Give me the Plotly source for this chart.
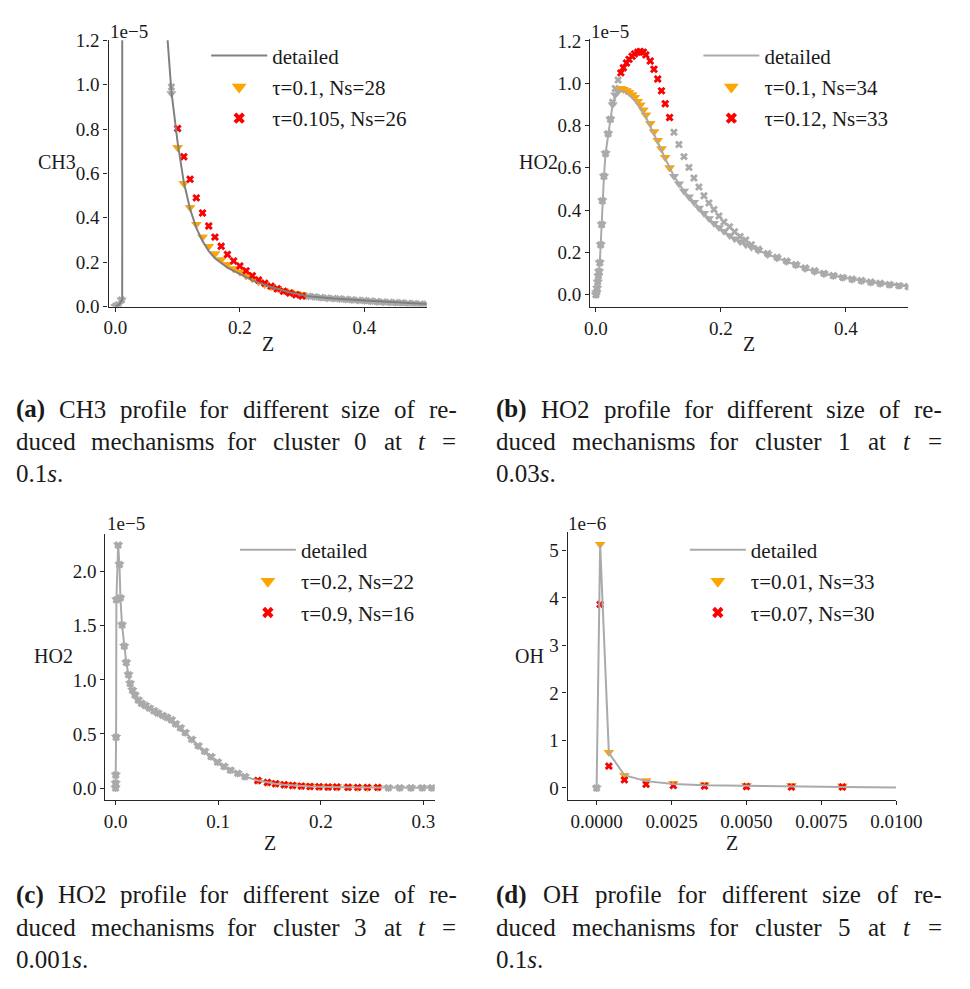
import plotly.graph_objects as go

# ---------------- DATA ----------------
# (a) CH3, cluster 0, t = 0.1 s   (values in units of 1e-5)
Z_a_detailed = [0.0, 0.005, 0.011, 0.0125, 0.03, 0.05, 0.07, 0.08, 0.09, 0.10, 0.11, 0.12, 0.13,
                0.14, 0.15, 0.16, 0.18, 0.20, 0.22, 0.25, 0.28, 0.31, 0.35, 0.40, 0.45, 0.50]
CH3_a_detailed = [0.0, 0.006, 0.03, 30.0, 8.0, 3.5, 1.8, 1.35, 0.97, 0.74, 0.56, 0.44, 0.355,
                  0.295, 0.25, 0.218, 0.175, 0.145, 0.118, 0.088, 0.064, 0.046, 0.036, 0.027, 0.018, 0.011]
Z_a_reduced = [0.0, 0.005, 0.01, 0.09,
               0.10, 0.11, 0.12, 0.13, 0.14, 0.15, 0.16, 0.17, 0.18, 0.19, 0.20,
               0.21, 0.22, 0.23, 0.24, 0.25, 0.26, 0.27, 0.28, 0.29, 0.30,
               0.31, 0.32, 0.33, 0.34, 0.35, 0.36, 0.37, 0.38, 0.39, 0.40,
               0.41, 0.42, 0.43, 0.44, 0.45, 0.46, 0.47, 0.48, 0.49, 0.50]
CH3_a_tau1 = [0.0, 0.008, 0.03, 0.96,
              0.717, 0.555, 0.446, 0.371, 0.313, 0.272, 0.238, 0.211, 0.190, 0.171, 0.156,
              0.139, 0.125, 0.112, 0.100, 0.090, 0.081, 0.073, 0.066, 0.060, 0.054,
              0.048, 0.045, 0.042, 0.039, 0.037, 0.035, 0.033, 0.031, 0.029, 0.027,
              0.025, 0.023, 0.021, 0.020, 0.018, 0.017, 0.015, 0.014, 0.012, 0.011]
CH3_a_tau2 = [0.0, 0.008, 0.03, 0.99,
              0.803, 0.675, 0.574, 0.490, 0.422, 0.363, 0.313, 0.272, 0.235, 0.205, 0.183,
              0.161, 0.139, 0.120, 0.105, 0.092, 0.080, 0.069, 0.061, 0.053, 0.048,
              0.047, 0.044, 0.041, 0.039, 0.037, 0.035, 0.033, 0.031, 0.029, 0.027,
              0.025, 0.023, 0.021, 0.020, 0.018, 0.017, 0.015, 0.014, 0.012, 0.011]
hl_a = (0.10, 0.30)

# (b) HO2, cluster 1, t = 0.03 s   (units of 1e-5)
Z_b_rise = [0.0, 0.001, 0.002, 0.003, 0.004, 0.005, 0.0062, 0.0077, 0.0093, 0.0103, 0.0129,
            0.0155, 0.0196, 0.0232, 0.0268, 0.031, 0.0355]
HO2_b_rise = [0.0, 0.01, 0.03, 0.06, 0.089, 0.11, 0.151, 0.236, 0.332, 0.444, 0.56,
              0.668, 0.761, 0.83, 0.90, 0.946, 0.962]
HO2_b_rise_tau2 = [0.0, 0.01, 0.03, 0.06, 0.089, 0.11, 0.151, 0.236, 0.332, 0.444, 0.56,
                   0.668, 0.761, 0.83, 0.91, 0.975, 1.015]
Z_b_mid = [0.040, 0.044, 0.049, 0.053, 0.058, 0.062, 0.067, 0.071, 0.076, 0.080, 0.087,
           0.093, 0.099, 0.105, 0.111, 0.118]
HO2_b_mid_tau1 = [0.975, 0.972, 0.965, 0.957, 0.945, 0.933, 0.915, 0.897, 0.873, 0.850, 0.81,
                  0.77, 0.73, 0.69, 0.65, 0.60]
HO2_b_mid_tau2 = [1.049, 1.073, 1.096, 1.113, 1.128, 1.139, 1.147, 1.150, 1.147, 1.134, 1.105,
                  1.066, 1.02, 0.964, 0.903, 0.838]
Z_b_det_mid = [0.04, 0.05, 0.06, 0.07, 0.08, 0.09, 0.10, 0.11, 0.12]
HO2_b_det_mid = [0.968, 0.955, 0.925, 0.89, 0.84, 0.78, 0.715, 0.65, 0.59]
Z_b_post = [0.125, 0.133, 0.141, 0.149, 0.157, 0.165, 0.173, 0.181, 0.189, 0.197, 0.205,
            0.214, 0.222, 0.231, 0.240, 0.249]
HO2_b_post_tau1 = [0.56, 0.525, 0.49, 0.463, 0.437, 0.41, 0.385, 0.36, 0.338, 0.318, 0.30,
                   0.28, 0.265, 0.25, 0.236, 0.224]
HO2_b_post_tau2 = [0.768, 0.71, 0.653, 0.602, 0.552, 0.509, 0.468, 0.434, 0.403, 0.372, 0.344,
                   0.321, 0.298, 0.275, 0.259, 0.236]
Z_b_tail = [0.26, 0.275, 0.29, 0.305, 0.32, 0.335, 0.35, 0.365, 0.38, 0.395, 0.41, 0.425,
            0.44, 0.455, 0.47, 0.485, 0.50]
HO2_b_tail_tau1 = [0.21, 0.19, 0.174, 0.157, 0.14, 0.124, 0.11, 0.099, 0.09, 0.081, 0.073,
                   0.066, 0.059, 0.053, 0.048, 0.043, 0.039]
HO2_b_tail_tau2 = [0.215, 0.195, 0.177, 0.16, 0.143, 0.127, 0.113, 0.101, 0.091, 0.082, 0.074,
                   0.067, 0.06, 0.054, 0.048, 0.043, 0.039]
hl_b = (0.039, 0.12)

# (c) HO2, cluster 3, t = 0.001 s   (units of 1e-5)
Z_c = [0.0, 0.0001, 0.0002, 0.0005, 0.0008, 0.0025, 0.0038, 0.0047, 0.0063, 0.0085,
       0.0104, 0.0126, 0.0142, 0.0164, 0.0189, 0.022, 0.0252, 0.029, 0.033, 0.0374,
       0.0411, 0.0458, 0.0499, 0.0543, 0.0584, 0.0631, 0.0678, 0.0741, 0.0804, 0.0867,
       0.093, 0.0993, 0.1056, 0.1118, 0.119, 0.126, 0.1386, 0.148, 0.1559, 0.1644,
       0.1725, 0.181, 0.1895, 0.1983, 0.2071, 0.2156, 0.2266, 0.236, 0.2454, 0.2555,
       0.2659, 0.2769, 0.2879, 0.2989, 0.3083]
HO2_c_detailed = [0.0, 0.045, 0.12, 0.47, 1.74, 2.247, 2.066, 1.758, 1.508, 1.312,
                  1.161, 1.047, 0.966, 0.905, 0.86, 0.814, 0.784, 0.763, 0.739, 0.715,
                  0.694, 0.672, 0.654, 0.631, 0.595, 0.558, 0.513, 0.452, 0.392, 0.341,
                  0.292, 0.241, 0.202, 0.166, 0.136, 0.106, 0.069, 0.051, 0.039, 0.030,
                  0.024, 0.018, 0.015, 0.012, 0.009, 0.009, 0.006, 0.006, 0.006, 0.006,
                  0.003, 0.003, 0.003, 0.003, 0.003]
HO2_c_tau1 = [0.0, 0.045, 0.12, 0.47, 1.74, 2.247, 2.066, 1.758, 1.508, 1.312,
              1.161, 1.047, 0.966, 0.905, 0.86, 0.814, 0.784, 0.763, 0.739, 0.715,
              0.694, 0.672, 0.654, 0.631, 0.595, 0.558, 0.513, 0.452, 0.392, 0.341,
              0.292, 0.241, 0.202, 0.166, 0.136, 0.106, 0.072, 0.054, 0.042, 0.033,
              0.027, 0.021, 0.018, 0.015, 0.012, 0.011, 0.009, 0.008, 0.008, 0.008,
              0.003, 0.003, 0.003, 0.003, 0.003]
HO2_c_tau2 = [0.0, 0.045, 0.12, 0.47, 1.74, 2.247, 2.066, 1.758, 1.508, 1.312,
              1.161, 1.047, 0.966, 0.905, 0.86, 0.814, 0.784, 0.763, 0.739, 0.715,
              0.694, 0.672, 0.654, 0.631, 0.595, 0.558, 0.513, 0.452, 0.392, 0.341,
              0.292, 0.241, 0.202, 0.166, 0.136, 0.106, 0.069, 0.051, 0.039, 0.030,
              0.024, 0.018, 0.015, 0.012, 0.010, 0.009, 0.007, 0.006, 0.006, 0.006,
              0.003, 0.003, 0.003, 0.003, 0.003]
hl_c = (0.138, 0.256)

# (d) OH, cluster 5, t = 0.1 s   (units of 1e-6)
Z_d_detailed = [0.0, 0.000118, 0.000409, 0.000926, 0.00165, 0.00256, 0.0036, 0.0050, 0.0065,
                0.0082, 0.0100]
OH_d_detailed = [0.0, 5.12, 0.74, 0.27, 0.144, 0.083, 0.055, 0.04, 0.03, 0.02, 0.012]
Z_d_reduced = [0.0, 0.000118, 0.000409, 0.000926, 0.00165, 0.00256, 0.0036, 0.0050, 0.0065,
               0.0082]
OH_d_tau1 = [0.0, 5.13, 0.75, 0.27, 0.15, 0.10, 0.07, 0.05, 0.05, 0.04]
OH_d_tau2 = [0.0, 3.86, 0.46, 0.17, 0.08, 0.05, 0.04, 0.03, 0.02, 0.02]
hl_d = (0.0001, 0.01)

names_a = ["τ=0.1, Ns=28", "τ=0.105, Ns=26"]
names_b = ["τ=0.1, Ns=34", "τ=0.12, Ns=33"]
names_c = ["τ=0.2, Ns=22", "τ=0.9, Ns=16"]
names_d = ["τ=0.01, Ns=33", "τ=0.07, Ns=30"]

# ---------------- FIGURE ----------------
W, H = 970, 989
def px(x):
    return x / W
def py(y):
    return 1 - y / H

FONT = "'Liberation Serif', 'Times New Roman', Times, 'DejaVu Serif', serif"
INK = "#1a1a1a"
SPINE = "#262626"
GREY_M = "#aaaaaa"
ORANGE = "#FFA500"
RED = "#FF0000"

fig = go.Figure()

def add_panel(k, Zdet, Ydet, Z1, Y1, Z2, Y2, hl, names, line_color):
    xa = "x" if k == 1 else f"x{k}"
    ya = "y" if k == 1 else f"y{k}"
    lg = "legend" if k == 1 else f"legend{k}"
    common = dict(xaxis=xa, yaxis=ya, hoverinfo="skip")
    fig.add_trace(go.Scatter(x=Z1, y=Y1, mode="markers", showlegend=False,
                             marker=dict(symbol="triangle-down", size=9, color=GREY_M), **common))
    fig.add_trace(go.Scatter(x=Z2, y=Y2, mode="markers", showlegend=False,
                             marker=dict(symbol="x", size=7, color=GREY_M,
                                         line=dict(width=0)), **common))
    s1 = [i for i, z in enumerate(Z1) if hl[0] <= z <= hl[1]]
    s2 = [i for i, z in enumerate(Z2) if hl[0] <= z <= hl[1]]
    fig.add_trace(go.Scatter(x=[Z1[i] for i in s1], y=[Y1[i] for i in s1], mode="markers",
                             showlegend=False,
                             marker=dict(symbol="triangle-down", size=9, color=ORANGE), **common))
    fig.add_trace(go.Scatter(x=[Z2[i] for i in s2], y=[Y2[i] for i in s2], mode="markers",
                             showlegend=False,
                             marker=dict(symbol="x", size=7, color=RED, line=dict(width=0)), **common))
    fig.add_trace(go.Scatter(x=Zdet, y=Ydet, mode="lines", name="detailed", legend=lg,
                             legendrank=1, legendgroup=f"{k}a",
                             line=dict(color=line_color, width=2), **common))
    # legend entries with the legend-sized symbols
    fig.add_trace(go.Scatter(x=[None], y=[None], mode="markers", name=names[0], legend=lg,
                             legendrank=2, legendgroup=f"{k}b",
                             marker=dict(symbol="triangle-down", size=13, color=ORANGE), **common))
    fig.add_trace(go.Scatter(x=[None], y=[None], mode="markers", name=names[1], legend=lg,
                             legendrank=3, legendgroup=f"{k}c",
                             marker=dict(symbol="x", size=10, color=RED, line=dict(width=0)), **common))

add_panel(1, Z_a_detailed, CH3_a_detailed, Z_a_reduced, CH3_a_tau1, Z_a_reduced, CH3_a_tau2,
          hl_a, names_a, "#808080")

Z_b_t = Z_b_rise + Z_b_mid + Z_b_post + Z_b_tail
fig_b_det_x = Z_b_rise + Z_b_det_mid + Z_b_post + Z_b_tail
fig_b_det_y = HO2_b_rise + HO2_b_det_mid + HO2_b_post_tau1 + HO2_b_tail_tau1
add_panel(2, fig_b_det_x, fig_b_det_y,
          Z_b_t, HO2_b_rise + HO2_b_mid_tau1 + HO2_b_post_tau1 + HO2_b_tail_tau1,
          Z_b_t, HO2_b_rise_tau2 + HO2_b_mid_tau2 + HO2_b_post_tau2 + HO2_b_tail_tau2,
          hl_b, names_b, "#aaaaaa")
add_panel(3, Z_c, HO2_c_detailed, Z_c, HO2_c_tau1, Z_c, HO2_c_tau2, hl_c, names_c, "#aaaaaa")
add_panel(4, Z_d_detailed, OH_d_detailed, Z_d_reduced, OH_d_tau1, Z_d_reduced, OH_d_tau2,
          hl_d, names_d, "#aaaaaa")

# panel geometry (pixel boxes of the axes)
panels = {
    1: dict(xpx=(106, 435), ypx=(31, 303), xr=[-0.011, 0.5], yr=[0, 1.2],
            xd=0.2, xf=".1f", yd=0.2, yf=".1f"),
    2: dict(xpx=(604, 933), ypx=(30, 303.3), xr=[-0.0093, 0.5], yr=[-0.0575, 1.2075],
            xd=0.2, xf=".1f", yd=0.2, yf=".1f"),
    3: dict(xpx=(102.7, 443.3), ypx=(535, 807.3), xr=[-0.0100, 0.311], yr=[-0.112, 2.352],
            xd=0.1, xf=".1f", yd=0.5, yf=".1f"),
    4: dict(xpx=(580.7, 920.7), ypx=(533.3, 807.3), xr=[-0.00097, 0.0100], yr=[-0.2565, 5.3865],
            xd=0.0025, xf=".4f", yd=1, yf="d"),
}
axis_common = dict(showline=True, linecolor=SPINE, linewidth=1.2, ticks="outside", ticklen=4,
                   tickwidth=1.2, tickcolor=SPINE, showgrid=False, zeroline=False,
                   tickfont=dict(family=FONT, size=19, color=INK))
layout_axes = {}
for k, p in panels.items():
    xn = "xaxis" if k == 1 else f"xaxis{k}"
    yn = "yaxis" if k == 1 else f"yaxis{k}"
    xa = "x" if k == 1 else f"x{k}"
    ya = "y" if k == 1 else f"y{k}"
    layout_axes[xn] = dict(domain=[px(p["xpx"][0]), px(p["xpx"][1])], range=p["xr"], anchor=ya,
                           tick0=0, dtick=p["xd"], tickformat=p["xf"], **axis_common)
    layout_axes[yn] = dict(domain=[py(p["ypx"][1]), py(p["ypx"][0])], range=p["yr"], anchor=xa,
                           tick0=0, dtick=p["yd"], tickformat=p["yf"], **axis_common)

leg_common = dict(xanchor="left", yanchor="top", bgcolor="rgba(0,0,0,0)", borderwidth=0,
                  font=dict(family=FONT, size=21, color=INK), itemwidth=56, tracegroupgap=1)
legend_pos = {1: (207, 26), 2: (716, 26), 3: (236.7, 531), 4: (702, 531)}
for k, (lx, ly) in legend_pos.items():
    ln = "legend" if k == 1 else f"legend{k}"
    layout_axes[ln] = dict(x=px(lx), y=py(ly), **leg_common)

fig.update_layout(width=W, height=H, margin=dict(l=0, r=0, t=0, b=0),
                  paper_bgcolor="white", plot_bgcolor="white", showlegend=True,
                  font=dict(family=FONT), **layout_axes)

def ann(x, y, text, size, xanchor="center", yanchor="middle"):
    fig.add_annotation(x=px(x), y=py(y), xref="paper", yref="paper", text=text, showarrow=False,
                       xanchor=xanchor, yanchor=yanchor,
                       font=dict(family=FONT, size=size, color=INK))

# axis labels and offset texts
ylabels = {1: ("CH3", 52.5, 155), 2: ("HO2", 551, 155), 3: ("HO2", 49.5, 660), 4: ("OH", 541.7, 660)}
for k, (t, x, y) in ylabels.items():
    ann(x, y, t, 20)
for k, p in panels.items():
    ycen = 341 if k <= 2 else 851
    ann((p["xpx"][0] + p["xpx"][1]) / 2, ycen, "Z", 20)
offsets = {1: ("1e\u22125", 105, 21.7), 2: ("1e\u22125", 603, 21.7),
           3: ("1e\u22125", 102, 525), 4: ("1e\u22126", 579.5, 525)}
for k, (t, x, y) in offsets.items():
    ann(x, y, t, 19, xanchor="left")

# ---------------- CAPTIONS (justified, Times metrics) ----------------
REG = {" ": 250, "(": 333, ")": 333, "-": 333, ".": 250, "=": 564, "C": 667, "H": 722, "O": 722,
       "a": 444, "b": 500, "c": 444, "d": 500, "e": 444, "f": 333, "h": 500, "i": 278, "l": 278,
       "m": 778, "n": 500, "o": 500, "p": 500, "r": 333, "s": 389, "t": 278, "u": 500, "z": 444}
for dgt in "0123456789":
    REG[dgt] = 500
BOLD = {"(": 333, ")": 333, "a": 500, "b": 556, "c": 444, "d": 556}
ITAL = {"t": 278, "s": 389}
CF = 25

def seg_width(txt, style):
    tab = BOLD if style == "b" else ITAL if style == "i" else REG
    return sum(tab.get(ch, 500) for ch in txt) * CF / 1000.0

def word_html(segs):
    out = ""
    for txt, st in segs:
        out += f"<b>{txt}</b>" if st == "b" else f"<i>{txt}</i>" if st == "i" else txt
    return out

def caption(letter, species, cluster, tval, left, right, ytop):
    l1 = [[(f"({letter})", "b")], [(species, "")], [("profile", "")], [("for", "")],
          [("different", "")], [("size", "")], [("of", "")], [("re-", "")]]
    l2 = [[("duced", "")], [("mechanisms", "")], [("for", "")], [("cluster", "")],
          [(cluster, "")], [("at", "")], [("t", "i")], [("=", "")]]
    for line, yc in ((l1, ytop), (l2, ytop + 33)):
        widths = [sum(seg_width(t, s) for t, s in w) for w in line]
        gap = (right - left - sum(widths)) / (len(line) - 1)
        x = left
        for w, wd in zip(line, widths):
            ann(x, yc, word_html(w), CF, xanchor="left")
            x += wd + gap
    ann(left, ytop + 66, word_html([(tval, ""), ("s", "i"), (".", "")]), CF, xanchor="left")

caption("a", "CH3", "0", "0.1", 8, 463, 408)
caption("b", "HO2", "1", "0.03", 505, 965, 408)
caption("c", "HO2", "3", "0.001", 8, 463, 904)
caption("d", "OH", "5", "0.1", 505, 965, 904)

fig.write_html("out.html")
